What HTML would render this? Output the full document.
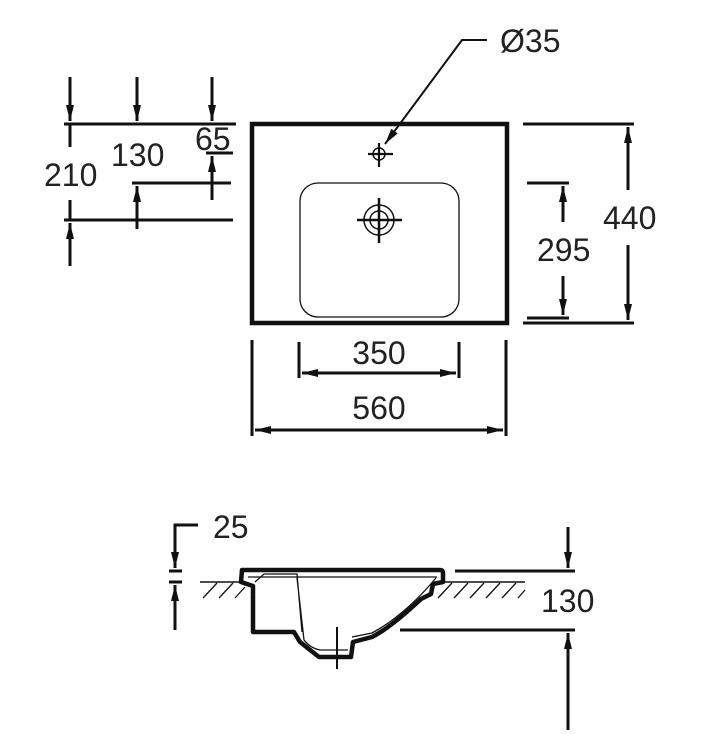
<!DOCTYPE html>
<html><head><style>
html,body{margin:0;padding:0;background:#fff;}
svg{display:block;}
text{font-family:"Liberation Sans",sans-serif;font-size:32px;fill:#222;}
</style></head><body>
<svg width="721" height="734" viewBox="0 0 721 734" xmlns="http://www.w3.org/2000/svg">
<defs>
<marker id="b" viewBox="0 0 20 10" refX="20" refY="5" markerWidth="20" markerHeight="8" markerUnits="userSpaceOnUse" orient="auto-start-reverse">
<path d="M0,0 L20,5 L0,10 Z" fill="#111"/>
</marker>
</defs>
<g stroke="#111" fill="none">
<rect x="252" y="124" width="255" height="199" stroke-width="4.5"/>
<rect x="300" y="183" width="159" height="134" rx="18" stroke-width="1.3"/>
<circle cx="379" cy="154" r="6" stroke-width="1.5"/>
<path d="M368,154H393M379,143V167" stroke-width="2.2"/>
<circle cx="379" cy="220" r="15" stroke-width="1.5"/>
<circle cx="379" cy="220" r="9" stroke-width="1.5"/>
<path d="M357,220H402M379,198V243" stroke-width="2.5"/>
<path d="M487,40H462L385,144" stroke-width="2" marker-end="url(#b)"/>

<g stroke-width="3">
<path d="M64,124H236M132,183H231M64,220H233M206,153H233"/>
<path d="M70,77V121" marker-end="url(#b)"/>
<path d="M70,124V147"/>
<path d="M70,266V223" marker-end="url(#b)"/>
<path d="M70,200V220"/>
<path d="M137,77V121" marker-end="url(#b)"/>
<path d="M137,229V186" marker-end="url(#b)"/>
<path d="M212,77V121" marker-end="url(#b)"/>
<path d="M212,200V156" marker-end="url(#b)"/>
</g>
<g stroke-width="3">
<path d="M523,124H634M527,183H569M527,318H569M523,323H634"/>
<path d="M628,190V127" marker-end="url(#b)"/>
<path d="M628,245V320" marker-end="url(#b)"/>
<path d="M563,222V186" marker-end="url(#b)"/>
<path d="M563,276V315" marker-end="url(#b)"/>
</g>
<g stroke-width="3">
<path d="M252,340V436M506,340V436M299,342V378M459,342V378"/>
<path d="M302,373H456" marker-start="url(#b)" marker-end="url(#b)"/>
<path d="M255,430H503" marker-start="url(#b)" marker-end="url(#b)"/>
</g>

<path d="M200,582H240M442,582H525" stroke-width="1.5"/>
<g stroke-width="1.3">
<path d="M203,598L217,583M219,598L233,583M235,598L245,587M251,598L253,596"/>
<path d="M438,598L452,583M454,598L468,583M470,598L484,583M486,598L500,583M502,598L516,583M518,598L525,590"/>
</g>
<path d="M242,570H440Q443,570 443,573V582L433,584L431,594L421,599Q390,628 372,637L353,642L351,657H319L300,642L294,632H253V586L241,582Z" stroke-width="4.5" stroke-linejoin="round"/>
<path d="M248,577H437M255,582L264,574H297L302,632M297,578L304,640Q310,648 320,650H348M352,637L372,633Q405,615 436,578" stroke-width="1.3"/>
<path d="M337,627V669" stroke-width="2"/>
<g stroke-width="3">
<path d="M455,571H575M400,630H575"/>
<path d="M568,527V568" marker-end="url(#b)"/>
<path d="M568,730V633" marker-end="url(#b)"/>
<path d="M198,525H175V568" marker-end="url(#b)"/>
<path d="M169,571H182M169,582H182"/>
<path d="M175,630V585" marker-end="url(#b)"/>
</g>
</g>
<text x="500" y="52">Ø35</text>
<text x="44" y="186">210</text>
<text x="111" y="166">130</text>
<text x="195" y="150">65</text>
<text x="603" y="229">440</text>
<text x="537" y="261">295</text>
<text x="379" y="364" text-anchor="middle">350</text>
<text x="379" y="419" text-anchor="middle">560</text>
<text x="213" y="538">25</text>
<text x="541" y="612">130</text>
</svg>
</body></html>
